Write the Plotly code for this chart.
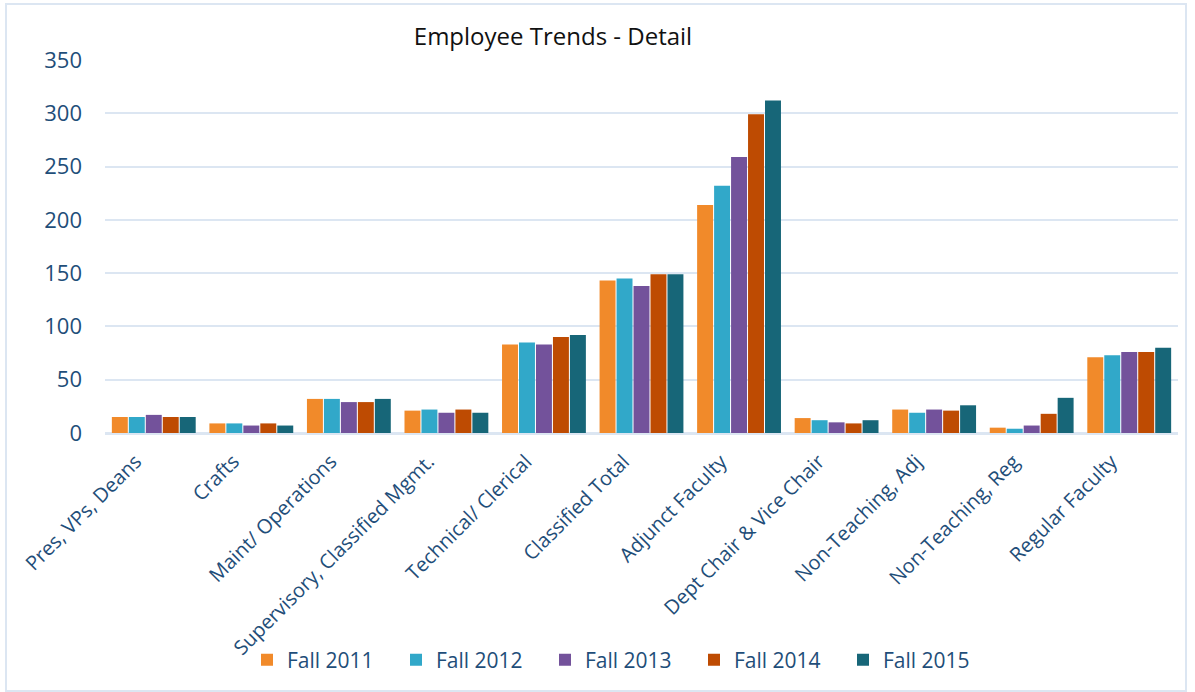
import plotly.graph_objects as go

categories = ["Pres, VPs, Deans", "Crafts", "Maint/ Operations", "Supervisory, Classified Mgmt.",
              "Technical/ Clerical", "Classified Total", "Adjunct Faculty", "Dept Chair & Vice Chair",
              "Non-Teaching, Adj", "Non-Teaching, Reg", "Regular Faculty"]

fall_2011 = [15, 9, 32, 21, 83, 143, 214, 14, 22, 5, 71]
fall_2012 = [15, 9, 32, 22, 85, 145, 232, 12, 19, 4, 73]
fall_2013 = [17, 7, 29, 19, 83, 138, 259, 10, 22, 7, 76]
fall_2014 = [15, 9, 29, 22, 90, 149, 299, 9, 21, 18, 76]
fall_2015 = [15, 7, 32, 19, 92, 149, 312, 12, 26, 33, 80]

series = [("Fall 2011", fall_2011, "#F18A2A"),
          ("Fall 2012", fall_2012, "#31A8C9"),
          ("Fall 2013", fall_2013, "#73529B"),
          ("Fall 2014", fall_2014, "#BE4B02"),
          ("Fall 2015", fall_2015, "#176678")]

y_ticks = [0, 50, 100, 150, 200, 250, 300, 350]

fig = go.Figure()
for name, vals, col in series:
    fig.add_trace(go.Bar(name=name, x=categories, y=vals, marker=dict(color=col, line=dict(width=0))))

font_family = "Open Sans, sans-serif"
tick_color = "#1F4E79"

fig.update_layout(
    width=1195, height=692,
    paper_bgcolor="white", plot_bgcolor="white",
    margin=dict(l=105, r=17, t=60, b=259, autoexpand=False),
    barmode="group", bargap=0.13, bargroupgap=0.06,
    title=dict(text="Employee Trends - Detail", x=553/1195, xanchor="center", y=1 - 37/692, yanchor="middle",
               font=dict(family=font_family, size=24, color="#111111")),
    font=dict(family=font_family, color=tick_color),
    legend=dict(orientation="h", x=(247 - 105)/1073, xanchor="left", y=-(660 - 433)/373, yanchor="middle",
                font=dict(size=21, color=tick_color), traceorder="normal", bgcolor="rgba(0,0,0,0)",
                itemwidth=30, entrywidthmode="pixels", entrywidth=104),
    showlegend=True,
)
fig.update_yaxes(range=[0, 350], tickvals=y_ticks, showgrid=True, gridcolor="#DCE6F2", gridwidth=2,
                 zeroline=True, zerolinecolor="#DCE6F2", zerolinewidth=3, automargin=False,
                 tickfont=dict(size=22, color=tick_color), ticks="", ticklabelstandoff=22)
fig.update_xaxes(tickangle=-45, tickfont=dict(size=20, color=tick_color), showline=False, ticks="",
                 automargin=False, ticklabelshift=-18, ticklabelstandoff=12)

fig.add_shape(type="rect", xref="paper", yref="paper",
              x0=-99/1073, x1=1.0 + 8/1073, y0=-258/373, y1=1 + 56/373,
              line=dict(color="#DCE6F2", width=2), fillcolor="rgba(0,0,0,0)", layer="below")

fig.write_html("out.html", config={"displayModeBar": False},
               post_script="document.body.style.margin='0';document.body.style.padding='0';")
